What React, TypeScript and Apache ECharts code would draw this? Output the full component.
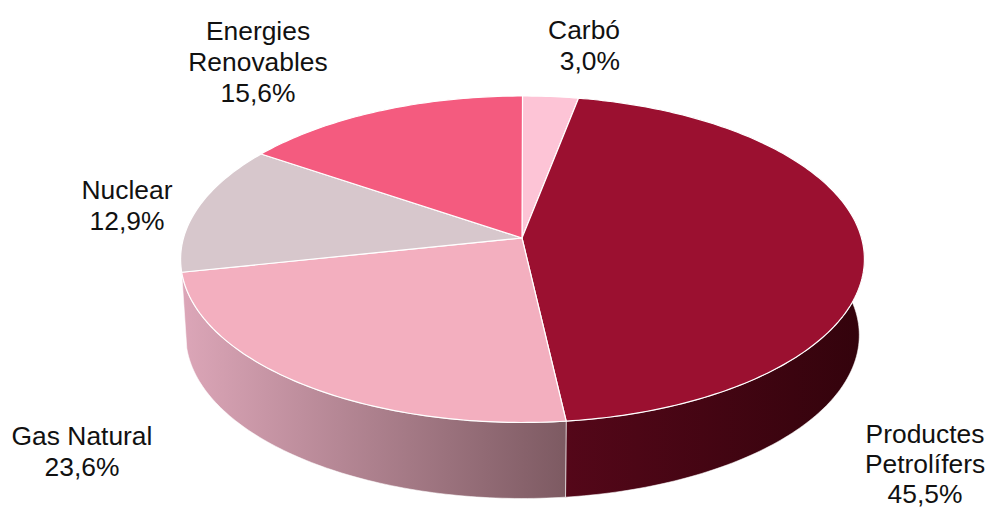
import React, { useEffect, useRef } from "react";
import * as echarts from "echarts";

const categories = ["Carbó", "Productes Petrolífers", "Gas Natural", "Nuclear", "Energies Renovables"];
const values = [3.0, 45.5, 23.6, 12.9, 15.6];
const labelLines = [["Carbó"], ["Productes", "Petrolífers"], ["Gas Natural"], ["Nuclear"], ["Energies", "Renovables"]];
const topColors = ["#fdc4d6", "#9b1030", "#f3afbf", "#d7c7cc", "#f45b7f"];
const sideStops: (string[] | null)[] = [null, ["#540719", "#33030c"], ["#dca6b8", "#7d5a62"], null, null];
const labelPos = [
  { x: 620, y: 14, align: "right", lh: 31 },
  { x: 925, y: 419, align: "center", lh: 30 },
  { x: 82, y: 420, align: "center", lh: 31 },
  { x: 127, y: 174, align: "center", lh: 31 },
  { x: 258, y: 15, align: "center", lh: 31 },
];

const W = 987, H = 509;
const CX = 522.5, APEX_X = 522, CY = 238, B = 339, A = 160.5, K = -0.13;
const DEPTH = 76, BOTTOM_SCALE = 0.985;
const total = values.reduce((a, b) => a + b, 0);

function pt(phi: number, bottom: boolean): number[] {
  const c = Math.sin(phi), s = -Math.cos(phi);
  const d = 1 + K * s;
  const x = (B * c) / d, y = (A * s) / d;
  return bottom
    ? [CX + x * BOTTOM_SCALE, CY + y + DEPTH]
    : [CX + x, CY + y];
}

function arc(from: number, to: number, bottom: boolean): number[][] {
  const n = Math.max(2, Math.ceil(Math.abs(to - from) * 60));
  const out: number[][] = [];
  for (let i = 0; i <= n; i++) out.push(pt(from + ((to - from) * i) / n, bottom));
  return out;
}

function range(i: number): number[] {
  let sum = 0;
  for (let k = 0; k < i; k++) sum += values[k];
  return [(sum / total) * Math.PI * 2, ((sum + values[i]) / total) * Math.PI * 2];
}

const fmt = (v: number) => v.toFixed(1).replace(".", ",") + "%";

function renderTop(params: any, api: any) {
  const i = api.value(0);
  const [a, b] = range(i);
  return {
    type: "polygon",
    shape: { points: [[APEX_X, CY], ...arc(a, b, false)] },
    style: { fill: topColors[i], stroke: "#fff", lineWidth: 1.2, lineJoin: "round" },
  };
}

function renderSide(params: any, api: any) {
  const i = api.value(0);
  const stops = sideStops[i];
  if (!stops) return null;
  const [a0, b] = range(i);
  const a = Math.max(a0, Math.PI * 0.45);
  return {
    type: "polygon",
    shape: { points: [...arc(a, b, false), ...arc(b, a, true)] },
    style: {
      fill: {
        type: "linear", x: 0, y: 0, x2: 1, y2: 0,
        colorStops: [{ offset: 0, color: stops[0] }, { offset: 1, color: stops[1] }],
      },
      stroke: "rgba(255,255,255,0.7)",
      lineWidth: 0.8,
    },
  };
}

export default function App() {
  const ref = useRef<HTMLDivElement>(null);
  useEffect(() => {
    const chart = echarts.init(ref.current!, undefined, { renderer: "svg" });
    const data = values.map((v, i) => ({ name: categories[i], value: [i, v] }));
    chart.setOption({
      animation: false,
      backgroundColor: "#fff",
      series: [
        { type: "custom", coordinateSystem: "none", z: 1, silent: true, data, renderItem: renderSide },
        { type: "custom", coordinateSystem: "none", z: 2, silent: true, data, renderItem: renderTop },
      ],
      graphic: labelPos.map((p, i) => ({
        type: "text",
        x: p.x,
        y: p.y,
        z: 5,
        style: {
          text: [...labelLines[i], fmt(values[i])].join("\n"),
          font: '26.4px "Liberation Sans", Arial, sans-serif',
          lineHeight: p.lh,
          fill: "#111",
          align: p.align,
          verticalAlign: "top",
        },
      })),
    });
    return () => chart.dispose();
  }, []);
  return <div ref={ref} style={{ position: "absolute", left: 0, top: 0, width: W, height: H }} />;
}
